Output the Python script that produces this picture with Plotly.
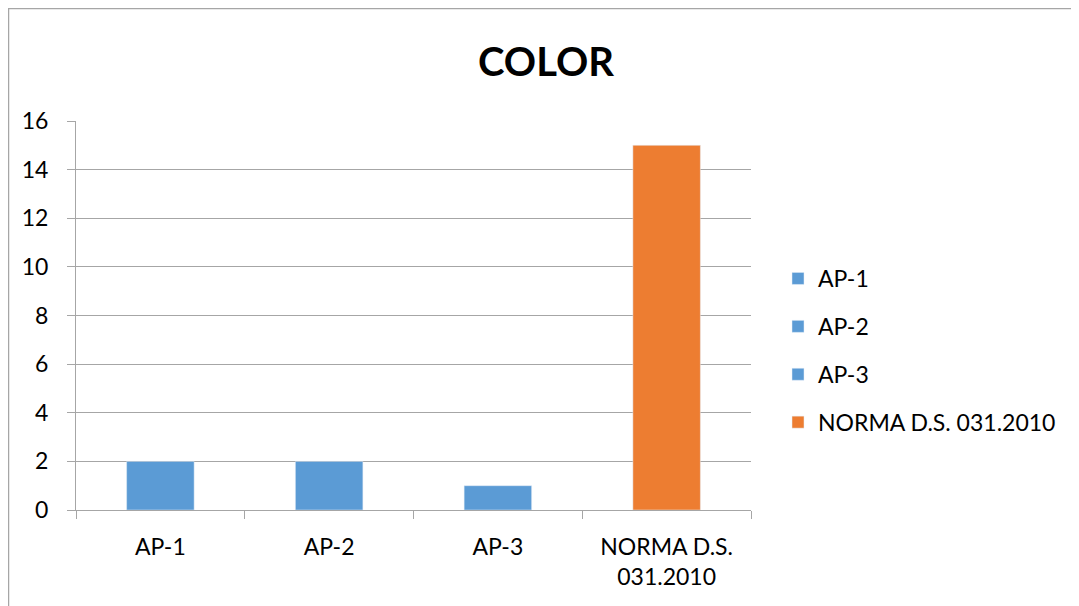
import plotly.graph_objects as go

categories = ["AP-1", "AP-2", "AP-3", "NORMA D.S.<br>031.2010"]
series_names = ["AP-1", "AP-2", "AP-3", "NORMA D.S. 031.2010"]
values = [2, 2, 1, 15]
colors = ["#5B9BD5", "#5B9BD5", "#5B9BD5", "#ED7D31"]
y_ticks = [0, 2, 4, 6, 8, 10, 12, 14, 16]

# page body has an 8px margin; figure coordinates = screen - 8
W, H = 1071, 598
L, T = 68, 113
R = W - 743
B = H - 502
pw, ph = W - L - R, H - T - B

fig = go.Figure()
for i, (cat, name, v, c) in enumerate(zip(categories, series_names, values, colors)):
    fig.add_trace(go.Bar(x=[cat], y=[v], name=name, marker_color=c,
                         width=0.4, legendgroup=f"g{i}"))

font = "Lato, 'Open Sans', sans-serif"
grid = "#A6A6A6"
fig.update_layout(
    width=W, height=H,
    margin=dict(l=L, r=R, t=T, b=B),
    paper_bgcolor="white", plot_bgcolor="white",
    barmode="overlay",
    font=dict(family=font, size=23, color="black"),
    title=dict(text="<b>COLOR</b>", x=538 / W, xanchor="center",
               y=1 - 54 / H, yanchor="middle",
               font=dict(family=font, size=40, color="black")),
    xaxis=dict(categoryorder="array", categoryarray=categories,
               showline=True, linecolor=grid, linewidth=1,
               ticks="outside", tickson="boundaries", ticklen=8,
               tickcolor=grid, showgrid=False, ticklabelstandoff=16,
               automargin=False, tickfont=dict(size=23)),
    yaxis=dict(range=[0, 16], tickvals=y_ticks, showgrid=True,
               gridcolor=grid, gridwidth=1, showline=True, linecolor=grid,
               ticks="outside", ticklen=8, tickcolor=grid,
               ticklabelstandoff=14, automargin=False,
               zeroline=False, tickfont=dict(size=23)),
    legend=dict(x=(770 - L) / pw, xanchor="left",
                y=1 - (249 - T) / ph, yanchor="top",
                traceorder="grouped", tracegroupgap=15,
                font=dict(size=23), itemwidth=30),
    showlegend=True,
    shapes=[dict(type="rect", xref="paper", yref="paper",
                 x0=(0.5 - L) / pw, x1=(W + 20 - L) / pw,
                 y0=-(B + 20) / ph, y1=1 + (T - 0.5) / ph,
                 line=dict(color="#A6A6A6", width=1.5), layer="below")],
)
fig.write_html("out.html")
